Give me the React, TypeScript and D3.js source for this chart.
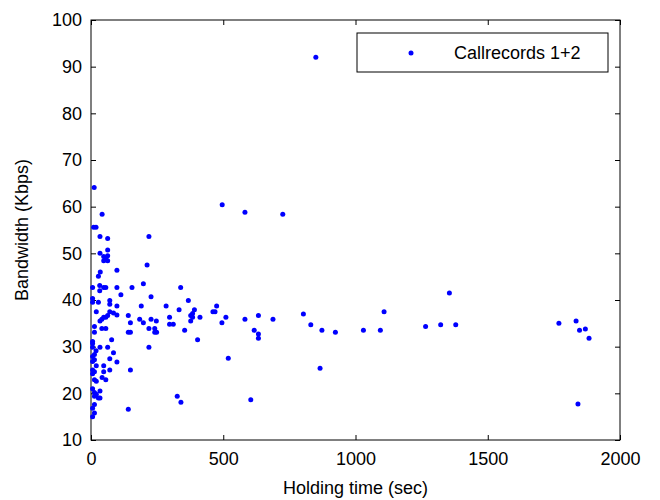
import React, { useRef, useEffect } from 'react';
import * as d3 from 'd3';

// Holding time (sec) and bandwidth (Kbps) for each call record
const holdTime = [
  12, 42, 10, 19, 34, 63, 219, 63, 34, 48, 63, 48, 63, 56,
  212, 98, 35, 28, 198, 33, 48, 56, 6, 98, 155, 339,
  33, 113, 227, 6, 6, 368, 71, 71, 28,
  190, 284, 475, 98, 333, 391, 20, 71, 85, 98,
  384, 377, 384, 412, 461, 469, 297, 510, 56, 48, 63, 41, 141,
  184, 227, 34, 247, 377, 198, 149, 297, 311, 495, 13, 41, 56, 219,
  241, 248, 241, 149, 141, 13, 354, 78, 403, 6,
  6, 6, 19, 34, 63, 219, 85, 13, 6, 13, 6, 71, 519, 98,
  48, 20, 149, 71, 6, 13, 6, 48, 42, 56, 13, 20, 6, 13, 34,
  13, 28, 34, 20, 326, 340, 13, 6, 141, 13, 6,
  582, 725, 1355, 582, 633, 688, 617, 633, 633, 803, 831, 873, 924,
  1030, 1094, 1108, 1265, 1322, 866, 604,
  1379, 1769, 1834, 1847, 1869, 1883, 1841, 850, 496
];
const bandwidth = [
  64.1, 58.4, 55.6, 55.6, 53.6, 53.2, 53.6, 50.7, 50, 49.3, 49.5, 48.4, 48.4, 48.9,
  47.5, 46.4, 46, 45.1, 43.5, 43.1, 42.7, 42.7, 42.7, 42.7, 42.7, 42.7,
  42, 41.1, 40.7, 40.3, 39.5, 39.9, 39.9, 39.1, 39.5,
  38.7, 38.7, 38.7, 38.7, 37.9, 37.9, 37.5, 37.5, 37.2, 36.8,
  37.1, 36.7, 36.3, 36.3, 37.5, 37.5, 36.3, 36.3, 36.3, 36.3, 36.7, 35.9, 36.7,
  35.9, 35.9, 35.5, 35.5, 35.5, 35.1, 35.1, 34.8, 34.8, 35.1, 34.3, 33.9, 33.9, 33.9,
  33.9, 33.1, 33.1, 33.1, 33.1, 33.1, 33.5, 31.5, 31.5, 31.1,
  30.7, 29.9, 29.1, 29.9, 29.9, 29.9, 28.7, 28.3, 27.9, 27.2, 26.8, 27.4, 27.5, 26.7,
  25.9, 25.9, 25.0, 25.0, 25, 24.6, 24.2, 24.6, 23.4, 22.9, 22.9, 22.6, 21.0, 20.2, 20.5,
  19.4, 19.0, 19.0, 19.8, 19.4, 18.1, 17.6, 16.8, 16.6, 15.8, 15.0,
  58.8, 58.4, 41.5, 35.9, 36.7, 35.9, 33.5, 32.7, 31.8, 37.0, 34.7, 33.5, 33.1,
  33.5, 33.5, 37.5, 34.3, 34.7, 25.4, 18.6,
  34.7, 35.0, 35.5, 33.5, 33.8, 31.8, 17.7, 92, 60.4
];

const xTicks = [0, 500, 1000, 1500, 2000];
const yTicks = [10, 20, 30, 40, 50, 60, 70, 80, 90, 100];
const seriesName = 'Callrecords 1+2';

const App = () => {
  const chartRef = useRef<SVGSVGElement | null>(null);

  useEffect(() => {
    const font = '"Liberation Sans", Arial, sans-serif';
    const fs = 18;
    const margin = { top: 20, right: 40, bottom: 60, left: 91 };
    const width = 660 - margin.left - margin.right;
    const height = 500 - margin.top - margin.bottom;

    const svg = d3.select(chartRef.current);
    svg.selectAll('*').remove();

    const g = svg.append('g')
      .attr('transform', `translate(${margin.left},${margin.top})`);

    const x = d3.scaleLinear().domain([0, 2000]).range([0, width]);
    const y = d3.scaleLinear().domain([10, 100]).range([height, 0]);

    const tickLen = 5;
    const fmt = d3.format('d');

    // ticks on all four sides, pointing inward
    const xAxis = g.append('g').attr('transform', `translate(0,${height})`)
      .call(d3.axisBottom(x).tickValues(xTicks).tickFormat(fmt).tickSizeInner(-tickLen).tickSizeOuter(0).tickPadding(12));
    g.append('g')
      .call(d3.axisTop(x).tickValues(xTicks).tickSizeInner(-tickLen).tickSizeOuter(0).tickFormat(() => ''));
    const yAxis = g.append('g')
      .call(d3.axisLeft(y).tickValues(yTicks).tickFormat(fmt).tickSizeInner(-tickLen).tickSizeOuter(0).tickPadding(9));
    g.append('g').attr('transform', `translate(${width},0)`)
      .call(d3.axisRight(y).tickValues(yTicks).tickSizeInner(-tickLen).tickSizeOuter(0).tickFormat(() => ''));

    g.selectAll('.domain').remove();
    g.selectAll('.tick line').attr('stroke', '#000');
    [xAxis, yAxis].forEach(a => a.selectAll('text')
      .attr('font-family', font).attr('font-size', fs).attr('fill', '#000'));

    // frame
    g.append('rect')
      .attr('width', width).attr('height', height)
      .attr('fill', 'none').attr('stroke', '#000').attr('stroke-width', 1);

    // points
    const data = holdTime.map((t, i) => ({ t, b: bandwidth[i] }));
    g.append('g').selectAll('circle').data(data).join('circle')
      .attr('cx', d => x(d.t))
      .attr('cy', d => y(d.b))
      .attr('r', 2.5)
      .attr('fill', '#0000ff');

    // legend
    const lg = svg.append('g').attr('transform', 'translate(357,33)');
    lg.append('rect').attr('width', 251).attr('height', 39)
      .attr('fill', '#fff').attr('stroke', '#000');
    lg.append('circle').attr('cx', 54).attr('cy', 20).attr('r', 2.5).attr('fill', '#0000ff');
    lg.append('text').attr('x', 97).attr('y', 26)
      .attr('font-family', font).attr('font-size', fs).text(seriesName);

    // axis labels
    svg.append('text')
      .attr('x', margin.left + width / 2).attr('y', 494)
      .attr('text-anchor', 'middle')
      .attr('font-family', font).attr('font-size', fs)
      .text('Holding time (sec)');
    svg.append('text')
      .attr('transform', `translate(28,${margin.top + height / 2}) rotate(-90)`)
      .attr('text-anchor', 'middle')
      .attr('font-family', font).attr('font-size', fs)
      .text('Bandwidth (Kbps)');
  }, []);

  return (
    <div style={{ position: 'absolute', left: 0, top: 0 }}>
      <svg ref={chartRef} width={660} height={500} style={{ display: 'block', background: '#fff' }} />
    </div>
  );
};

export default App;
